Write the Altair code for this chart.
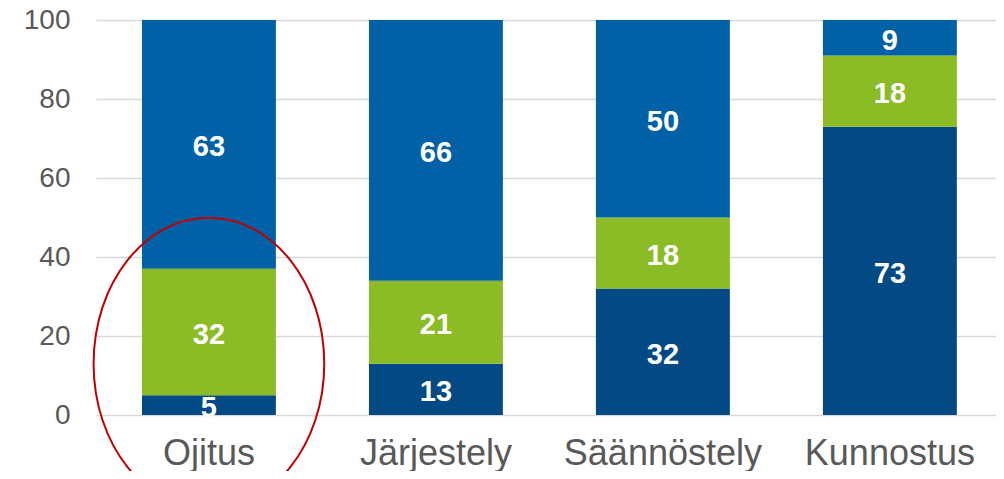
import altair as alt
import pandas as pd

categories = ["Ojitus", "Järjestely", "Säännöstely", "Kunnostus"]
series = ["Sarja 1", "Sarja 2", "Sarja 3"]
values_s1 = [5, 13, 32, 73]
values_s2 = [32, 21, 18, 18]
values_s3 = [63, 66, 50, 9]
colors = ["#034A84", "#8BBC25", "#0061A6"]
y_ticks = [0, 20, 40, 60, 80, 100]
highlight_category = ["Ojitus"]
highlight_center = [13]

rows = []
for i, c in enumerate(categories):
    for j, (s, vals) in enumerate(zip(series, [values_s1, values_s2, values_s3])):
        rows.append({"category": c, "series": s, "order": j, "value": vals[i]})
df = pd.DataFrame(rows)
hl = pd.DataFrame({"category": highlight_category, "center": highlight_center})

FONT = "Liberation Sans"

x_enc = alt.X(
    "category:N",
    sort=categories,
    scale=alt.Scale(paddingInner=0.41, paddingOuter=0.1875, align=0.54),
    axis=alt.Axis(title=None, labelAngle=0, labelFontSize=36, labelColor="#595959",
                  labelFont=FONT, labelPadding=21, labelLimit=0, ticks=False, tickSize=0,
                  domain=False, grid=False),
)
y_scale = alt.Scale(domain=[0, 100], nice=False)

bars = alt.Chart(df).mark_bar().encode(
    x=x_enc,
    y=alt.Y("value:Q", stack="zero", scale=y_scale,
            axis=alt.Axis(title=None, values=y_ticks, labelFontSize=28, labelColor="#595959",
                          labelFont=FONT, labelPadding=26, ticks=False, domain=False,
                          gridColor="#D9D9D9", gridWidth=1.5)),
    color=alt.Color("series:N", scale=alt.Scale(domain=series, range=colors), legend=None),
    order=alt.Order("order:Q"),
)

labels = alt.Chart(df).transform_stack(
    stack="value", groupby=["category"], as_=["y0", "y1"], sort=[alt.SortField("order")]
).transform_calculate(
    mid="(datum.y0 + datum.y1) / 2"
).mark_text(color="white", fontSize=29, fontWeight="bold", font=FONT, baseline="middle", dy=3).encode(
    x=alt.X("category:N", sort=categories),
    y=alt.Y("mid:Q", scale=y_scale),
    text=alt.Text("value:Q"),
)

ellipse_path = "M -0.79 0 A 0.79 1 0 1 0 0.79 0 A 0.79 1 0 1 0 -0.79 0 Z"
ellipse = alt.Chart(hl).mark_point(
    shape=ellipse_path, size=85264, filled=False, stroke="#C00000", strokeWidth=2, opacity=1
).encode(
    x=alt.X("category:N", sort=categories),
    y=alt.Y("center:Q", scale=y_scale),
)

chart = alt.layer(bars, labels, ellipse).properties(
    width=900, height=395,
    padding={"left": 88, "top": 12, "right": 0, "bottom": 56},
    autosize=alt.AutoSizeParams(type="none"),
).configure_view(stroke=None)

chart.save("out.html", embed_options={"renderer": "svg", "actions": False})
